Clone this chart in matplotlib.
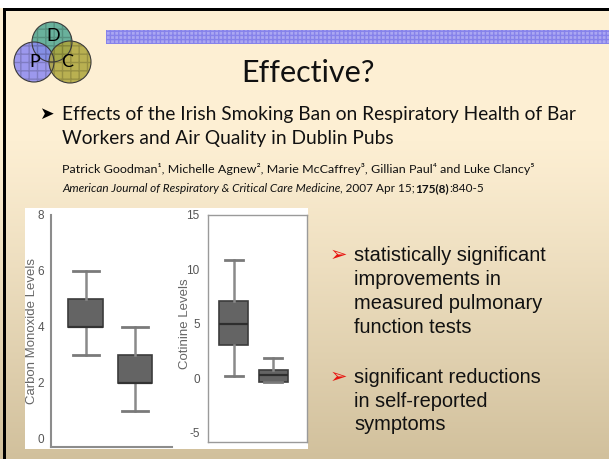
import matplotlib
matplotlib.use("Agg")
import matplotlib.pyplot as plt
import numpy as np
from matplotlib.patches import Rectangle, Circle
from matplotlib.colors import to_rgb

# ---------------- data ----------------
co_labels = ["Before", "After"]
co_whislo = [3.0, 1.0]
co_q1 = [4.0, 2.0]
co_med = [4.0, 2.0]
co_q3 = [5.0, 3.0]
co_whishi = [6.0, 4.0]
co_ticks = [0, 2, 4, 6, 8]

cot_labels = ["Before", "After"]
cot_whislo = [0.2, -0.3]
cot_q1 = [3.1, -0.3]
cot_med = [5.0, 0.3]
cot_q3 = [7.1, 0.75]
cot_whishi = [10.9, 1.9]
cot_ticks = [-5, 0, 5, 10, 15]

title = "Effective?"
bullet_lines = ["Effects of the Irish Smoking Ban on Respiratory Health of Bar",
                "Workers and Air Quality in Dublin Pubs"]
authors = "Patrick Goodman\u00b9, Michelle Agnew\u00b2, Marie McCaffrey\u00b3, Gillian Paul\u2074 and Luke Clancy\u2075"
right_bullets = [["statistically significant", "improvements in",
                  "measured pulmonary", "function tests"],
                 ["significant reductions", "in self-reported", "symptoms"]]

W, H = 609, 459
fig = plt.figure(figsize=(W / 100, H / 100), dpi=100)
bg = fig.add_axes([0, 0, 1, 1], zorder=0)
bg.set_xlim(0, W)
bg.set_ylim(H, 0)
bg.axis("off")

# gradient background
top = np.array(to_rgb("#FDEFD3"))
bot = np.array(to_rgb("#D1C09C"))
ys = np.arange(H)
t = np.clip((ys - 140) / (H - 140), 0, 1) ** 1.1
grad = top[None, :] * (1 - t[:, None]) + bot[None, :] * t[:, None]
img = np.repeat(grad[:, None, :], 2, axis=1)
bg.imshow(img, extent=[0, W, H, 0], aspect="auto", zorder=0)
bg.add_patch(Rectangle((0, 0), W, 8, facecolor="white", edgecolor="none", zorder=1))
bg.add_patch(Rectangle((3, 8), W, 3, facecolor="black", edgecolor="none", zorder=2))
bg.add_patch(Rectangle((3, 8), 3, H, facecolor="black", edgecolor="none", zorder=2))

# purple band
bg.add_patch(Rectangle((106, 30), W - 106, 14, facecolor="#ABA7F2", edgecolor="#8682EA",
                       hatch="++++", linewidth=0, zorder=2))

# logo
for (cx, cy, r, col) in [(52, 42, 20, "#4FA693"), (34, 62, 20, "#8B89F2"), (70, 62, 21, "#AEA53A")]:
    bg.add_patch(Circle((cx, cy), r, facecolor=col, alpha=0.85, edgecolor="none", zorder=3))
    bg.add_patch(Circle((cx, cy), r, facecolor="none", edgecolor=(0, 0, 0, 0.18), hatch="++",
                        linewidth=0, zorder=3))
    bg.add_patch(Circle((cx, cy), r, facecolor="none", edgecolor="#3a3a3a", linewidth=0.8, zorder=4))
for (lx, ly, s) in [(53, 36, "D"), (35, 62, "P"), (67, 62, "C")]:
    bg.text(lx, ly, s, fontsize=13, family=["Lato", "DejaVu Sans"], ha="center", va="center",
            color="black", zorder=5)

renderer = fig.canvas.get_renderer()


def fit(x, y, s, target_w, **kw):
    txt = bg.text(x, y, s, **kw)
    ext = txt.get_window_extent(renderer)
    fs = txt.get_fontsize() * target_w / ext.width
    txt.set_fontsize(fs)
    return txt


def chain(x, y, segs, **kw):
    for s, extra in segs:
        d = dict(kw)
        d.update(extra)
        txt = bg.text(x, y, s, **d)
        ext = txt.get_window_extent(renderer)
        x = x + ext.width
    return x


fam = ["Lato", "DejaVu Sans"]
fit(308, 82, title, 134, fontsize=20, family=fam, ha="center", va="baseline", color="#111111", zorder=5)
bg.text(39, 114, "\u27a4", fontsize=12.5, family=["DejaVu Sans"], ha="left", va="center", color="black", zorder=5)
t1 = fit(62, 120, bullet_lines[0], 513, fontsize=13, family=fam, ha="left", va="baseline",
         color="#111111", zorder=5)
bg.text(62, 144, bullet_lines[1], fontsize=t1.get_fontsize(), family=fam, ha="left", va="baseline",
        color="#111111", zorder=5)
fit(62, 173, authors, 472, fontsize=8, family=fam, ha="left", va="baseline", color="#111111", zorder=5)
segs = [("American Journal of Respiratory & Critical Care Medicine", {"style": "italic"}),
        (", 2007 Apr 15;", {}),
        ("175(8)", {"weight": "bold"}),
        (":840-5", {})]
chain(62, 192, segs, fontsize=8.5, family=fam, ha="left", va="baseline", color="#111111", zorder=5)

# right bullets
base_sets = [[261, 285, 309, 333], [383, 407, 430]]
for lines, bases in zip(right_bullets, base_sets):
    bg.text(330, bases[0] - 6, "\u27a2", fontsize=15, family=["DejaVu Sans"], ha="left", va="center",
            color="#E8140F", zorder=5)
    for s, b in zip(lines, bases):
        bg.text(354, b, s, fontsize=14.4, family=["Liberation Sans", "DejaVu Sans"], ha="left",
                va="baseline", color="#111111", zorder=5)

# white chart panel
bg.add_patch(Rectangle((25, 208), 283, 241, facecolor="white", edgecolor="none", zorder=2))


def axes_px(x0, y0, x1, y1):
    return fig.add_axes([x0 / W, 1 - y1 / H, (x1 - x0) / W, (y1 - y0) / H], zorder=3)


narrow = ["Liberation Sans Narrow", "Liberation Sans", "DejaVu Sans"]
reg = ["Liberation Sans", "DejaVu Sans"]

# ---- CO chart ----
ax1 = axes_px(51, 215, 172, 447)
ax1.patch.set_alpha(0)
stats1 = [dict(label=l, whislo=a, q1=b, med=c, q3=d, whishi=e)
          for l, a, b, c, d, e in zip(co_labels, co_whislo, co_q1, co_med, co_q3, co_whishi)]
ax1.bxp(stats1, positions=[1, 2], widths=0.71, capwidths=0.53, showfliers=False, patch_artist=True,
        boxprops=dict(facecolor="#646464", edgecolor="#3c3c3c", linewidth=1.2),
        medianprops=dict(color="#333333", linewidth=1.6),
        whiskerprops=dict(color="#8a8a8a", linewidth=1.8),
        capprops=dict(color="#7a7a7a", linewidth=2.0))
ax1.set_xlim(0.29, 2.755)
ax1.set_ylim(-0.29, 8.0)
ax1.set_yticks(co_ticks)
ax1.set_yticklabels([str(v) for v in co_ticks])
ax1.set_xticks([])
ax1.tick_params(axis="y", length=0, pad=5, labelsize=8.5, labelcolor="#555555")
for lab in ax1.get_yticklabels():
    lab.set_family(narrow)
for s in ["top", "right"]:
    ax1.spines[s].set_visible(False)
for s in ["left", "bottom"]:
    ax1.spines[s].set_color("#8c8c8c")
    ax1.spines[s].set_linewidth(1.5)
ax1.set_ylabel("Carbon Monoxide Levels", fontsize=9.5, color="#666666", family=reg)
ax1.yaxis.set_label_coords(-0.11, 0.5)

# ---- Cotinine chart ----
ax2 = axes_px(208, 215, 307, 442)
ax2.set_facecolor("white")
stats2 = [dict(label=l, whislo=a, q1=b, med=c, q3=d, whishi=e)
          for l, a, b, c, d, e in zip(cot_labels, cot_whislo, cot_q1, cot_med, cot_q3, cot_whishi)]
ax2.bxp(stats2, positions=[1, 2], widths=0.72, capwidths=0.45, showfliers=False, patch_artist=True,
        boxprops=dict(facecolor="#646464", edgecolor="#3c3c3c", linewidth=1.2),
        medianprops=dict(color="#2e2e2e", linewidth=1.6),
        whiskerprops=dict(color="#8a8a8a", linewidth=1.8),
        capprops=dict(color="#7a7a7a", linewidth=2.0))
ax2.set_xlim(0.36, 2.84)
ax2.set_ylim(-5.83, 15.0)
ax2.set_yticks(cot_ticks)
ax2.set_yticklabels([str(v) for v in cot_ticks])
ax2.set_xticks([])
ax2.tick_params(axis="y", length=0, pad=6, labelsize=8.5, labelcolor="#555555")
for lab in ax2.get_yticklabels():
    lab.set_family(narrow)
for s in ax2.spines.values():
    s.set_color("#9a9a9a")
    s.set_linewidth(1.0)
ax2.set_ylabel("Cotinine Levels", fontsize=9.5, color="#666666", family=reg)
ax2.yaxis.set_label_coords(-0.175, 0.52)

fig.savefig("out.png", dpi=100)
